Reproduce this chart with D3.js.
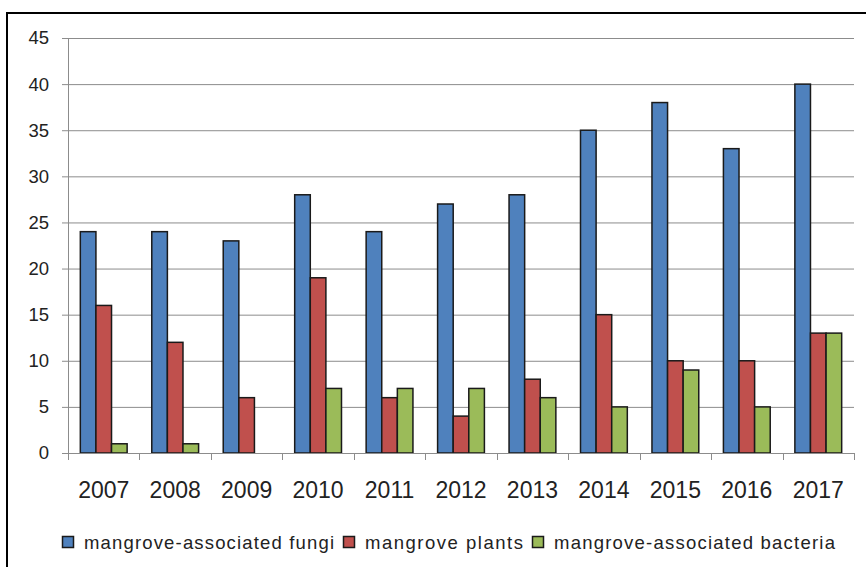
<!DOCTYPE html>
<html>
<head>
<meta charset="utf-8">
<script src="https://cdn.jsdelivr.net/npm/d3@7"></script>
<style>
  body { margin: 0; background: #fff; }
  svg { display: block; }
  text { font-family: "Liberation Sans", Arial, sans-serif; fill: #222; }
</style>
</head>
<body>
<script>
var years = ["2007", "2008", "2009", "2010", "2011", "2012", "2013", "2014", "2015", "2016", "2017"];
var seriesNames = ["mangrove-associated fungi", "mangrove plants", "mangrove-associated bacteria"];
var fungi = [24, 24, 23, 28, 24, 27, 28, 35, 38, 33, 40];
var plants = [16, 12, 6, 19, 6, 4, 8, 15, 10, 10, 13];
var bacteria = [1, 1, 0, 7, 7, 7, 6, 5, 9, 5, 13];
var yTicks = [0, 5, 10, 15, 20, 25, 30, 35, 40, 45];

var width = 866,
    height = 567;

var colors = ["#4F81BD", "#C0504D", "#9BBB59"];
var values = [fungi, plants, bacteria];

var svg = d3.select("body").append("svg")
    .attr("width", width)
    .attr("height", height);

// chart frame
svg.append("rect")
    .attr("x", 7).attr("y", 13)
    .attr("width", 900).attr("height", 600)
    .attr("fill", "#fff")
    .attr("stroke", "#000")
    .attr("stroke-width", 2);

var x0 = d3.scaleBand()
    .domain(years)
    .range([68, 854])
    .paddingInner(0).paddingOuter(0);

// series inside a year
var x1 = d3.scaleBand()
    .domain(d3.range(seriesNames.length))
    .range([0, x0.bandwidth()])
    .paddingInner(0).paddingOuter(0.79);

var y = d3.scaleLinear()
    .domain([0, 45])
    .range([453, 38]);

// gridlines
svg.append("g")
  .selectAll("line")
    .data(yTicks)
  .enter().append("line")
    .attr("x1", 62).attr("x2", 854)
    .attr("y1", function(d) { return y(d) + 0.5; })
    .attr("y2", function(d) { return y(d) + 0.5; })
    .attr("stroke", "#8c8c8c")
    .attr("stroke-width", 1);

// y labels
svg.append("g")
  .selectAll("text")
    .data(yTicks)
  .enter().append("text")
    .attr("x", 49)
    .attr("y", function(d) { return y(d); })
    .attr("dy", "0.35em")
    .attr("text-anchor", "end")
    .style("font-size", "18.5px")
    .text(function(d) { return d; });

// bars
var groups = svg.append("g")
  .selectAll("g")
    .data(years)
  .enter().append("g")
    .attr("transform", function(d) { return "translate(" + x0(d) + ",0)"; });

groups.selectAll("rect")
    .data(function(d, i) {
      return values.map(function(v, k) { return {k: k, value: v[i]}; });
    })
  .enter().append("rect")
    .filter(function(d) { return d.value > 0; })
    .attr("x", function(d) { return x1(d.k); })
    .attr("y", function(d) { return y(d.value); })
    .attr("width", x1.bandwidth())
    .attr("height", function(d) { return y(0) - y(d.value); })
    .attr("fill", function(d) { return colors[d.k]; })
    .attr("stroke", "#1a1a1a")
    .attr("stroke-width", 1.5);

// axes lines
svg.append("line")
    .attr("x1", 68.5).attr("x2", 68.5)
    .attr("y1", y(45)).attr("y2", y(0))
    .attr("stroke", "#8c8c8c");
svg.append("line")
    .attr("x1", 62).attr("x2", 854)
    .attr("y1", y(0) + 0.5).attr("y2", y(0) + 0.5)
    .attr("stroke", "#8c8c8c");

// category ticks
svg.append("g")
  .selectAll("line")
    .data(d3.range(years.length + 1))
  .enter().append("line")
    .attr("x1", function(i) { return Math.round(68 + i * x0.step()) + 0.5; })
    .attr("x2", function(i) { return Math.round(68 + i * x0.step()) + 0.5; })
    .attr("y1", y(0)).attr("y2", y(0) + 7)
    .attr("stroke", "#8c8c8c");

// x labels
svg.append("g")
  .selectAll("text")
    .data(years)
  .enter().append("text")
    .attr("x", function(d) { return x0(d) + x0.bandwidth() / 2; })
    .attr("y", 498)
    .attr("text-anchor", "middle")
    .style("font-size", "23px")
    .text(function(d) { return d; });

// legend
var legendX = [62, 343, 532];
var legend = svg.append("g")
  .selectAll("g")
    .data(seriesNames)
  .enter().append("g")
    .attr("transform", function(d, i) { return "translate(" + legendX[i] + ",536)"; });

legend.append("rect")
    .attr("x", 0.5).attr("y", 0.5)
    .attr("width", 11).attr("height", 11)
    .attr("fill", function(d, i) { return colors[i]; })
    .attr("stroke", "#1a1a1a")
    .attr("stroke-width", 1.5);

var legendW = [250, 158, 281];
legend.append("text")
    .attr("x", 22)
    .attr("y", 6.5)
    .attr("dy", "0.35em")
    .style("font-size", "18.5px")
    .attr("textLength", function(d, i) { return legendW[i]; })
    .attr("lengthAdjust", "spacing")
    .text(function(d) { return d; });
</script>
</body>
</html>
